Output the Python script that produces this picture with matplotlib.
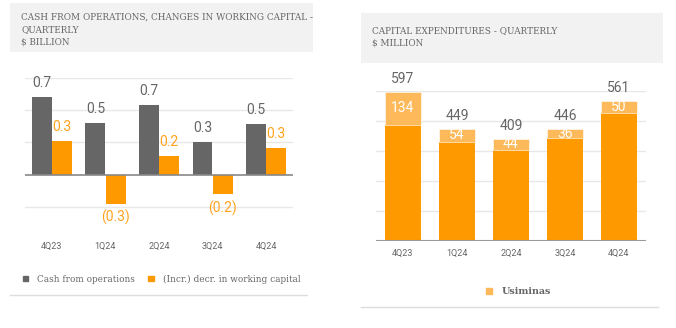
import matplotlib.pyplot as plt
from matplotlib.patches import Rectangle, Patch
from matplotlib.lines import Line2D

# data
quarters = ['4Q23', '1Q24', '2Q24', '3Q24', '4Q24']
cash_ops = [0.72, 0.48, 0.65, 0.30, 0.47]
cash_ops_lbl = ['0.7', '0.5', '0.7', '0.3', '0.5']
wc_change = [0.31, -0.27, 0.17, -0.18, 0.25]
wc_change_lbl = ['0.3', '(0.3)', '0.2', '(0.2)', '0.3']
capex_total = [597, 449, 409, 446, 561]
capex_usiminas = [134, 54, 44, 36, 50]

GRAY = '#666666'
ORANGE = '#ff9900'
LIGHT_OR = '#fdb95a'
TXT = '#666666'
NARROW = ['Roboto', 'DejaVu Sans']
SLAB = ['DejaVu Serif']

W, H = 676, 328
fig = plt.figure(figsize=(W / 100, H / 100), dpi=100)


def px_rect(x0, y0, x1, y1):
    return [x0 / W, 1 - y1 / H, (x1 - x0) / W, (y1 - y0) / H]


def box(x0, y0, x1, y1, color):
    fig.patches.append(Rectangle((x0 / W, 1 - y1 / H), (x1 - x0) / W, (y1 - y0) / H,
                                 transform=fig.transFigure, facecolor=color,
                                 edgecolor='none', zorder=0))


def hline(x0, x1, y, color):
    fig.add_artist(Line2D([x0 / W, x1 / W], [1 - y / H, 1 - y / H],
                          transform=fig.transFigure, color=color, lw=1))


# title boxes
box(10, 3, 313, 52, '#f2f2f2')
box(361, 13, 663, 63, '#f2f2f2')
fig.text(21 / W, 1 - 13 / H, 'CASH FROM OPERATIONS, CHANGES IN WORKING CAPITAL -\nQUARTERLY\n$ BILLION',
         family=SLAB, fontsize=6.4, color=TXT, va='top', ha='left', linespacing=1.45)
fig.text(372 / W, 1 - 26 / H, 'CAPITAL EXPENDITURES - QUARTERLY\n$ MILLION',
         family=SLAB, fontsize=6.4, color=TXT, va='top', ha='left', linespacing=1.45)

# left chart
ax1 = fig.add_axes(px_rect(25, 78, 293, 239))
x = list(range(len(quarters)))
bw = 0.37
ax1.bar([i - bw / 2 - 0.005 for i in x], cash_ops, bw, color=GRAY, zorder=3)
ax1.bar([i + bw / 2 + 0.005 for i in x], wc_change, bw, color=ORANGE, zorder=3)
for i in x:
    ax1.text(i - bw / 2, cash_ops[i] + 0.13, cash_ops_lbl[i], ha='center', va='center',
             family=NARROW, fontsize=10, color=TXT)
    v = wc_change[i]
    yy = v + 0.13 if v >= 0 else v - 0.13
    ax1.text(i + bw / 2, yy, wc_change_lbl[i], ha='center', va='center',
             family=NARROW, fontsize=10, color='#ffa31f')
ax1.set_xlim(-0.5, 4.5)
ax1.set_ylim(-0.6, 0.9)
for g in [-0.3, 0.3, 0.6, 0.9]:
    ax1.axhline(g, color='#e8e8e8', lw=1, zorder=1)
ax1.axhline(0, color='#888888', lw=1.2, zorder=4)
ax1.set_yticks([])
ax1.set_xticks(x)
ax1.set_xticklabels(quarters, family=NARROW, fontsize=6.5, color=TXT)
ax1.tick_params(axis='x', length=0, pad=2)
for s in ax1.spines.values():
    s.set_visible(False)
ax1.set_facecolor('none')

h1 = [Patch(color=GRAY, label='Cash from operations'),
      Patch(color=ORANGE, label='(Incr.) decr. in working capital')]
fig.legend(handles=h1, loc='center left', bbox_to_anchor=(15 / W, 1 - 279 / H), ncol=2,
           frameon=False, handlelength=0.6, handleheight=0.6, handletextpad=1.0,
           columnspacing=1.5, prop={'family': SLAB, 'size': 6.4}, labelcolor=TXT)
hline(10, 307, 295, '#dddddd')

# right chart
ax2 = fig.add_axes(px_rect(376, 91, 646, 241))
base = [t - u for t, u in zip(capex_total, capex_usiminas)]
ax2.bar(x, base, 0.667, color=ORANGE, zorder=3)
ax2.bar(x, capex_usiminas, 0.667, bottom=base, color=LIGHT_OR, zorder=3,
        edgecolor='white', linewidth=0.4)
for i in x:
    ax2.text(i, capex_total[i] + 52, str(capex_total[i]), ha='center', va='center',
             family=NARROW, fontsize=10, color=TXT)
    ax2.text(i, base[i] + capex_usiminas[i] / 2, str(capex_usiminas[i]), ha='center',
             va='center', family=NARROW, fontsize=10, color='white', zorder=5)
ax2.set_xlim(-0.5, 4.5)
ax2.set_ylim(0, 600)
for g in [120, 240, 360, 480, 600]:
    ax2.axhline(g, color='#e8e8e8', lw=1, zorder=1)
ax2.axhline(0, color='#999999', lw=1.5, zorder=4)
ax2.set_yticks([])
ax2.set_xticks(x)
ax2.set_xticklabels(quarters, family=NARROW, fontsize=6.5, color=TXT)
ax2.tick_params(axis='x', length=0, pad=6)
for s in ax2.spines.values():
    s.set_visible(False)
ax2.set_facecolor('none')

fig.legend(handles=[Patch(color=LIGHT_OR, label='Usiminas')], loc='center left',
           bbox_to_anchor=(478 / W, 1 - 292 / H), frameon=False, handlelength=0.6,
           handleheight=0.6, handletextpad=1.0,
           prop={'family': SLAB, 'size': 6.8, 'weight': 'bold'}, labelcolor=TXT)
hline(361, 658, 307, '#dddddd')

fig.savefig('out.png', dpi=100)
